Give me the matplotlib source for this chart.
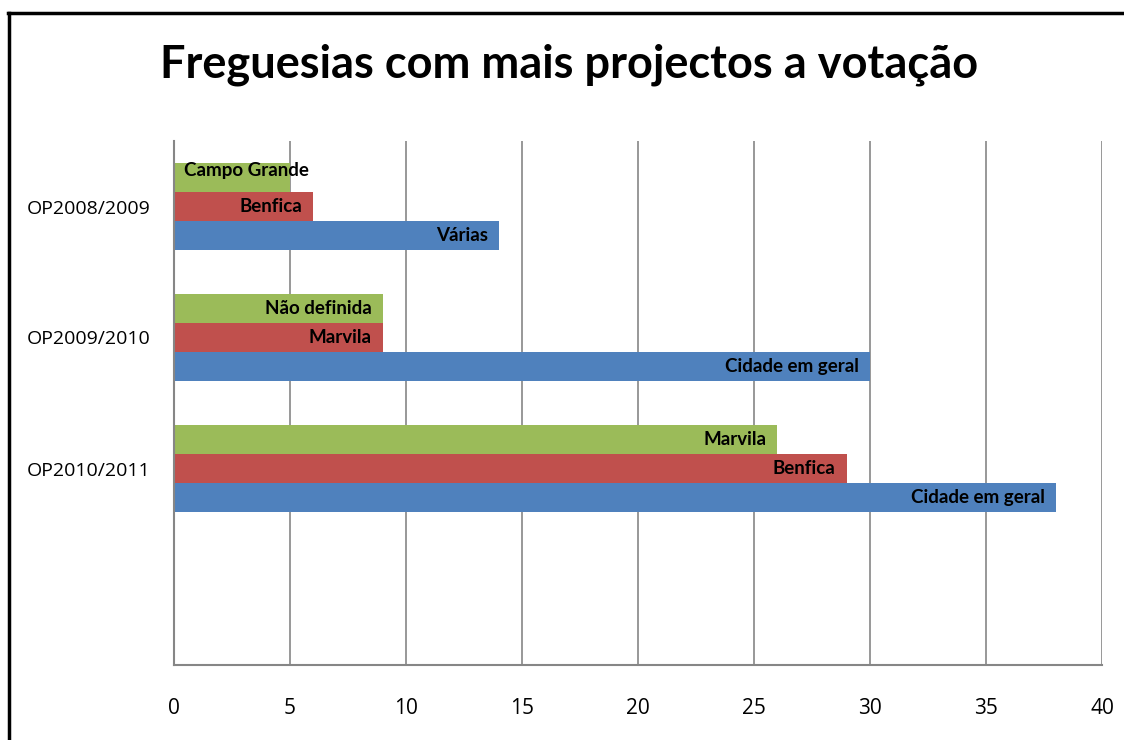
import numpy as np
import matplotlib.pyplot as plt
from matplotlib.lines import Line2D

# data (top to bottom)
editions = ["OP2008/2009", "OP2009/2010", "OP2010/2011", ""]
first_values = [14, 30, 38]      # blue
second_values = [6, 9, 29]       # red
third_values = [5, 9, 26]        # green
first_names = ["Várias", "Cidade em geral", "Cidade em geral"]
second_names = ["Benfica", "Marvila", "Benfica"]
third_names = ["Campo Grande", "Não definida", "Marvila"]

blue = "#4F81BD"
red = "#C0504D"
green = "#9BBB59"
grid_col = "#868686"

fig = plt.figure(figsize=(11.24, 7.40), dpi=100)
ax = fig.add_axes([174 / 1124, 1 - 665 / 740, (1102 - 174) / 1124, (665 - 141) / 740])

pos = np.arange(3)
h = 0.222

series = [
    (third_values, third_names, green, -h),
    (second_values, second_names, red, 0.0),
    (first_values, first_names, blue, h),
]

for vals, names, col, off in series:
    bars = ax.barh(pos + off, vals, height=h, color=col, zorder=3)
    for b, v, name in zip(bars, vals, names):
        y = b.get_y() + b.get_height() / 2
        # label wider than the bar starts from the axis instead
        if v < 6 and len(name) > 8:
            ax.annotate(name, (0, y), xytext=(7, 5), textcoords="offset points",
                        ha="left", va="center", fontsize=13.5, fontweight="bold",
                        family="Lato", zorder=4)
        else:
            ax.annotate(name, (v, y), xytext=(-8, 0), textcoords="offset points",
                        ha="right", va="center", fontsize=13.5, fontweight="bold",
                        family="Lato", zorder=4)

ax.set_xlim(0, 40)
ax.set_ylim(3.5, -0.5)
ax.set_xticks(np.arange(0, 41, 5))
ax.set_yticks(np.arange(4))
ax.set_yticklabels(editions, fontsize=14, family="Open Sans")
ax.tick_params(axis="x", labelsize=15, length=0, pad=24)
ax.tick_params(axis="y", length=0, pad=17)
for lab in ax.get_xticklabels():
    lab.set_family("Open Sans")

ax.grid(axis="x", color=grid_col, linewidth=1.2, zorder=0)
for side in ["top", "right"]:
    ax.spines[side].set_visible(False)
for side in ["left", "bottom"]:
    ax.spines[side].set_color(grid_col)
    ax.spines[side].set_linewidth(1.5)
    ax.spines[side].set_zorder(5)

fig.text(0.506, 1 - 65 / 740, "Freguesias com mais projectos a votação",
         ha="center", va="center", fontsize=32.5, fontweight="bold", family="Lato")

# frame on the top and left of the chart area
fig.add_artist(Line2D([9 / 1124, 9 / 1124], [0, 1 - 13 / 740], transform=fig.transFigure,
                      color="black", linewidth=2.5))
fig.add_artist(Line2D([8 / 1124, 1], [1 - 13 / 740, 1 - 13 / 740], transform=fig.transFigure,
                      color="black", linewidth=2.5))

fig.savefig("out.png", dpi=100)
